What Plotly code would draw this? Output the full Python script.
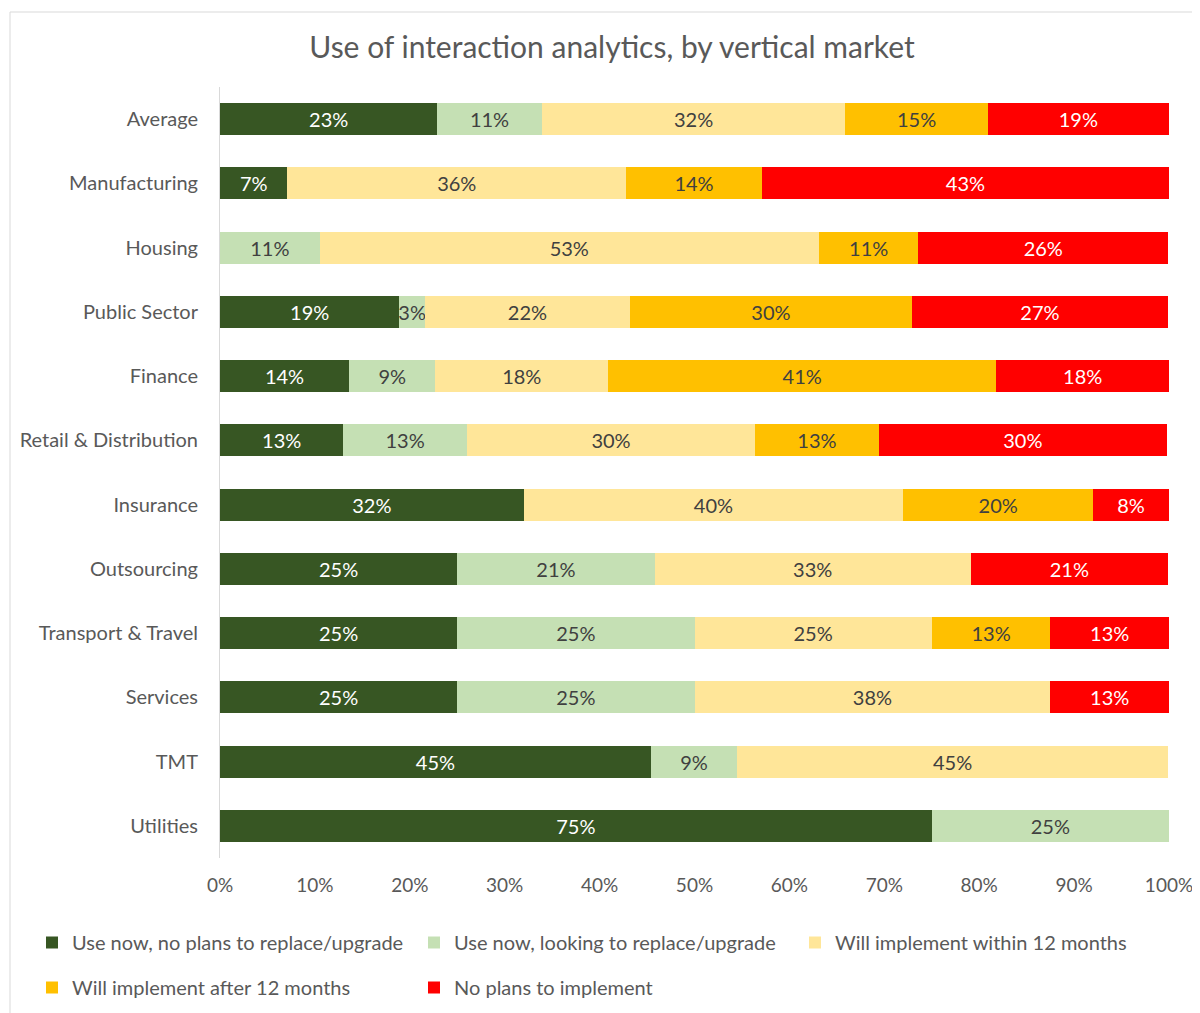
import plotly.graph_objects as go

categories = ["Average", "Manufacturing", "Housing", "Public Sector", "Finance",
              "Retail & Distribution", "Insurance", "Outsourcing", "Transport & Travel",
              "Services", "TMT", "Utilities"]

series_names = ["Use now, no plans to replace/upgrade",
                "Use now, looking to replace/upgrade",
                "Will implement within 12 months",
                "Will implement after 12 months",
                "No plans to implement"]

use_no_plans = [22.9, 7.1, None, 18.9, 13.6, 13.0, 32.0, 25.0, 25.0, 25.0, 45.4, 75.0]
use_replace = [11.0, None, 10.5, 2.7, 9.1, 13.0, None, 20.8, 25.0, 25.0, 9.1, 25.0]
within_12 = [32.0, 35.7, 52.6, 21.6, 18.2, 30.4, 40.0, 33.3, 25.0, 37.5, 45.4, None]
after_12 = [15.0, 14.3, 10.5, 29.7, 40.9, 13.0, 20.0, None, 12.5, None, None, None]
no_plans = [19.1, 42.9, 26.3, 27.0, 18.2, 30.4, 8.0, 20.8, 12.5, 12.5, None, None]

values = [use_no_plans, use_replace, within_12, after_12, no_plans]
colors = ["#375623", "#C5E0B4", "#FFE699", "#FFC000", "#FF0000"]
text_colors = ["#FFFFFF", "#404040", "#404040", "#404040", "#FFFFFF"]
legend_ids = ["legend", "legend2", "legend3", "legend4", "legend5"]

FONT = "Lato"
FS = 20
OFF = 8  # page body margin
W, H = 1200 - OFF, 1013 - OFF
# reference pixel positions of plot area
PX0, PX1, PY0, PY1 = 220, 1169, 87, 858
L = PX0 - OFF
R = W - (PX1 - OFF)
T = PY0 - OFF
B = H - (PY1 - OFF)

fig = go.Figure()
for name, vals, col, tcol, lg in zip(series_names, values, colors, text_colors, legend_ids):
    fig.add_trace(go.Bar(
        y=categories, x=vals, name=name, orientation="h",
        marker=dict(color=col, line=dict(width=0)),
        texttemplate="%{x:.0f}%", textposition="inside", insidetextanchor="middle",
        textangle=0,
        insidetextfont=dict(color=tcol, size=FS, family=FONT),
        constraintext="none", legend=lg, showlegend=True, hoverinfo="skip",
    ))

pw = W - L - R
ph = H - T - B

legend_common = dict(orientation="h", xref="container", yref="container",
                     xanchor="left", yanchor="top",
                     font=dict(size=FS, color="#595959", family=FONT),
                     bgcolor="rgba(0,0,0,0)")
# text start positions in reference (x) and row tops
TXT_SHIFT = 48
col_x = [72, 454, 835]
row_top = [915, 960]
legend_pos = [(col_x[0], row_top[0]), (col_x[1], row_top[0]), (col_x[2], row_top[0]),
              (col_x[0], row_top[1]), (col_x[1], row_top[1])]
legends = {}
for lg, (lx, ly) in zip(legend_ids, legend_pos):
    legends[lg] = dict(legend_common, x=(lx - TXT_SHIFT) / W, y=(H - ly) / H)

fig.update_layout(
    width=W, height=H,
    showlegend=True,
    barmode="stack", bargap=0.5,
    margin=dict(l=L, r=R, t=T, b=B),
    paper_bgcolor="white", plot_bgcolor="white",
    font=dict(family=FONT, size=FS, color="#595959"),
    uniformtext=dict(mode="show", minsize=FS),
    title=dict(text="Use of interaction analytics, by vertical market",
               x=(612 - OFF) / W, xanchor="center", xref="container",
               y=1 - (47 - OFF) / H, yanchor="middle", yref="container",
               font=dict(size=30, color="#595959", family=FONT)),
    xaxis=dict(range=[0, 100], dtick=10, ticksuffix="%", showgrid=False,
               zeroline=False, showline=False, ticks="", automargin=False,
               ticklabelstandoff=14,
               tickfont=dict(size=19, color="#595959"), fixedrange=True),
    yaxis=dict(autorange="reversed", showgrid=False, zeroline=False,
               showline=True, linecolor="#D9D9D9", linewidth=1, ticks="",
               ticklabelstandoff=17, automargin=False,
               tickfont=dict(size=FS, color="#595959")),
    shapes=[dict(type="rect", xref="paper", yref="paper",
                 x0=(10 - PX0) / pw, x1=(1230 - PX0) / pw,
                 y0=(PY1 - 1040) / ph, y1=(PY1 - 12) / ph,
                 line=dict(color="#D9D9D9", width=1), fillcolor="rgba(0,0,0,0)",
                 layer="below")],
    **legends,
)

fig.write_html("out.html")
